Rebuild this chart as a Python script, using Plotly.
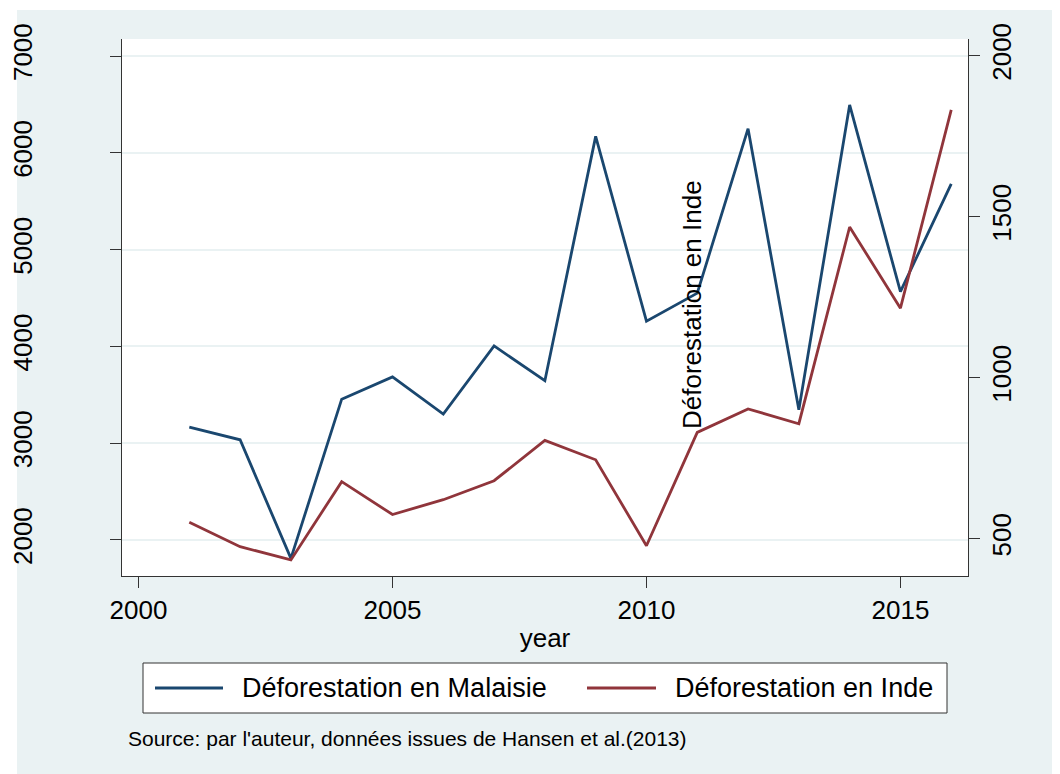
import plotly.graph_objects as go

years = list(range(2001, 2017))
malaisie = [3165, 3035, 1810, 3455, 3685, 3300, 4005, 3645, 6170, 4260,
            4550, 6250, 3345, 6495, 4565, 5680]
inde = [551, 475, 434, 677, 575, 621, 680, 805, 745, 478,
        830, 903, 857, 1468, 1216, 1832]

x_ticks = [2000, 2005, 2010, 2015]
y_ticks = [2000, 3000, 4000, 5000, 6000, 7000]
y2_ticks = [500, 1000, 1500, 2000]

BLUE = "#1a476f"
RED = "#90353b"
BG = "#eaf2f3"
FONT = "Liberation Sans, Arial, sans-serif"

fig = go.Figure()
fig.add_trace(go.Scatter(x=years, y=malaisie, mode="lines", name="Déforestation en Malaisie",
                         line=dict(color=BLUE, width=2.8)))
fig.add_trace(go.Scatter(x=years, y=inde, mode="lines", name="Déforestation en Inde",
                         yaxis="y2", line=dict(color=RED, width=2.8)))

axis_common = dict(showline=True, linecolor="#333333", linewidth=1.3, ticks="outside",
                   ticklen=11, tickcolor="#333333", tickfont=dict(size=26, color="black"),
                   zeroline=False, automargin=False)

# page body adds an 8px white margin, so the figure is 8px smaller
fig.update_layout(
    width=1052, height=766,
    margin=dict(l=114, r=92, t=31, b=198),
    paper_bgcolor=BG, plot_bgcolor="white",
    font=dict(family=FONT, color="black"),
    showlegend=False,
    xaxis=dict(range=[1999.675, 2016.33], tickvals=x_ticks, showgrid=False,
               title=dict(text="year", font=dict(size=26), standoff=4), **axis_common),
    yaxis=dict(range=[1628, 7176], tickvals=y_ticks, tickangle=-90, showgrid=True,
               gridcolor=BG, gridwidth=2, ticklabelstandoff=67, **axis_common),
    yaxis2=dict(range=[384, 2052], tickvals=y2_ticks, tickangle=-90, overlaying="y",
                side="right", showgrid=False, **axis_common),
)


def px_x(p):
    return (p - 122) / 846


def px_y(p):
    return (576 - p) / 537


# legend box drawn below the plot, Stata style
fig.add_shape(type="rect", xref="paper", yref="paper", x0=px_x(143), x1=px_x(947),
              y0=px_y(713), y1=px_y(663), fillcolor="white", line=dict(color="#333333", width=1))
legend_items = [(fig.data[0].name, BLUE, 155, 223, 240), (fig.data[1].name, RED, 587, 656, 673)]
for name, color, l0, l1, tx in legend_items:
    fig.add_shape(type="line", xref="paper", yref="paper", x0=px_x(l0), x1=px_x(l1),
                  y0=px_y(688), y1=px_y(688), line=dict(color=color, width=2.8))
    fig.add_annotation(text=name, xref="paper", yref="paper", x=px_x(tx), y=px_y(688),
                       xanchor="left", yanchor="middle", showarrow=False, font=dict(size=27))

fig.add_annotation(text="Déforestation en Inde", textangle=-90, xref="paper", yref="paper",
                   x=px_x(692), y=px_y(305), xanchor="center", yanchor="middle",
                   showarrow=False, font=dict(size=26))
fig.add_annotation(text="Source: par l'auteur, données issues de Hansen et al.(2013)",
                   xref="paper", yref="paper", x=px_x(126), y=px_y(738), xanchor="left",
                   yanchor="middle", showarrow=False, font=dict(size=21))

# white strips at top and left of the outer frame
fig.add_shape(type="rect", xref="paper", yref="paper", x0=px_x(0), x1=px_x(17), y0=px_y(780),
              y1=px_y(0), fillcolor="white", line_width=0, layer="below")
fig.add_shape(type="rect", xref="paper", yref="paper", x0=px_x(0), x1=px_x(1060), y0=px_y(10),
              y1=px_y(0), fillcolor="white", line_width=0, layer="below")

fig.write_html("out.html")
